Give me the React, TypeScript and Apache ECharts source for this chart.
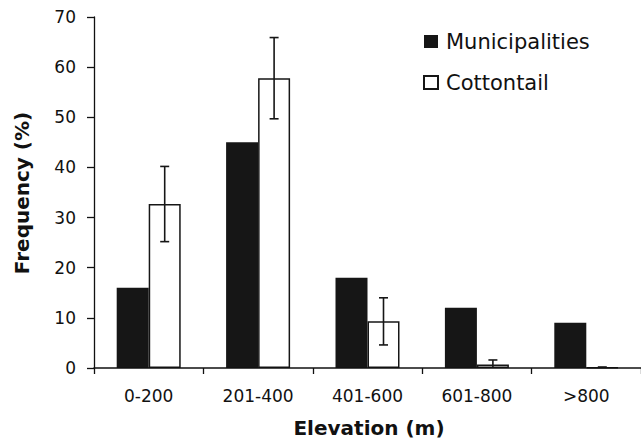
import React, { useEffect, useRef } from "react";
import * as echarts from "echarts";

const categories = ["0-200", "201-400", "401-600", "601-800", ">800"];
const municipalities = [16, 45, 18, 12, 9];
const cottontail = [32.7, 57.8, 9.3, 0.7, 0.1];
const cottontailErr = [7.5, 8.1, 4.7, 0.9, 0.1];
const yTicks = { min: 0, max: 70, interval: 10 };

export default function App() {
  const ref = useRef<HTMLDivElement>(null);
  useEffect(() => {
    document.body.style.margin = "0";
    const chart = echarts.init(ref.current!, null, { renderer: "svg" });
    const font = "DejaVu Sans";
    const ink = "#111111";
    const barW = 32;
    chart.setOption({
      animation: false,
      backgroundColor: "#ffffff",
      textStyle: { fontFamily: font, color: ink },
      grid: { left: 94, top: 17, width: 549, height: 351, containLabel: false },
      legend: {
        data: ["Municipalities", "Cottontail"],
        orient: "vertical",
        left: 418,
        top: 26,
        itemWidth: 14,
        itemHeight: 13,
        itemGap: 20,
        textStyle: { fontFamily: font, fontSize: 21, color: ink, lineHeight: 21, padding: [0, 0, 0, 3] },
        icon: "rect",
      },
      xAxis: {
        type: "category",
        data: categories,
        z: 10,
        axisLine: { show: true, onZero: false, lineStyle: { color: ink, width: 1.5 } },
        axisTick: { show: true, alignWithLabel: false, length: 6, lineStyle: { color: ink, width: 1.3 } },
        axisLabel: { fontFamily: font, fontSize: 17, color: ink, margin: 19 },
        splitLine: { show: false },
      },
      yAxis: {
        type: "value",
        min: yTicks.min,
        max: yTicks.max,
        interval: yTicks.interval,
        axisLine: { show: true, lineStyle: { color: ink, width: 1.3 } },
        axisTick: { show: true, length: 7, lineStyle: { color: ink, width: 1.3 } },
        axisLabel: { fontFamily: font, fontSize: 17, color: ink, margin: 18 },
        splitLine: { show: false },
      },
      graphic: [
        {
          type: "text",
          x: 22,
          y: 193,
          rotation: Math.PI / 2,
          style: {
            text: "Frequency (%)",
            font: `bold 20px "${font}"`,
            fill: ink,
            align: "center",
            verticalAlign: "middle",
          },
        },
        {
          type: "text",
          x: 369,
          y: 428,
          style: {
            text: "Elevation (m)",
            font: `bold 20px "${font}"`,
            fill: ink,
            align: "center",
            verticalAlign: "middle",
          },
        },
      ],
      series: [
        {
          name: "Municipalities",
          type: "bar",
          data: municipalities,
          barWidth: barW,
          barGap: "0%",
          itemStyle: { color: "#161616", borderColor: "#161616", borderWidth: 0 },
        },
        {
          name: "Cottontail",
          type: "bar",
          data: cottontail,
          barWidth: barW,
          itemStyle: { color: "#ffffff", borderColor: "#161616", borderWidth: 1.5 },
        },
        {
          name: "err",
          type: "custom",
          z: 5,
          data: cottontail.map((v, i) => [i, v, cottontailErr[i]]),
          renderItem: (params: any, api: any) => {
            const i = api.value(0);
            const v = api.value(1);
            const e = api.value(2);
            const top = api.coord([i, v + e]);
            const bot = api.coord([i, Math.max(0, v - e)]);
            const x = top[0] + barW / 2;
            const w = 4.5;
            const style = { stroke: "#161616", lineWidth: 1.6 };
            return {
              type: "group",
              children: [
                { type: "line", shape: { x1: x, y1: top[1], x2: x, y2: bot[1] }, style },
                { type: "line", shape: { x1: x - w, y1: top[1], x2: x + w, y2: top[1] }, style },
                v - e > 0
                  ? { type: "line", shape: { x1: x - w, y1: bot[1], x2: x + w, y2: bot[1] }, style }
                  : { type: "line", shape: { x1: x, y1: bot[1], x2: x, y2: bot[1] }, style },
              ],
            };
          },
        },
      ],
    });
    return () => chart.dispose();
  }, []);
  return <div ref={ref} style={{ width: 641, height: 446 }} />;
}
